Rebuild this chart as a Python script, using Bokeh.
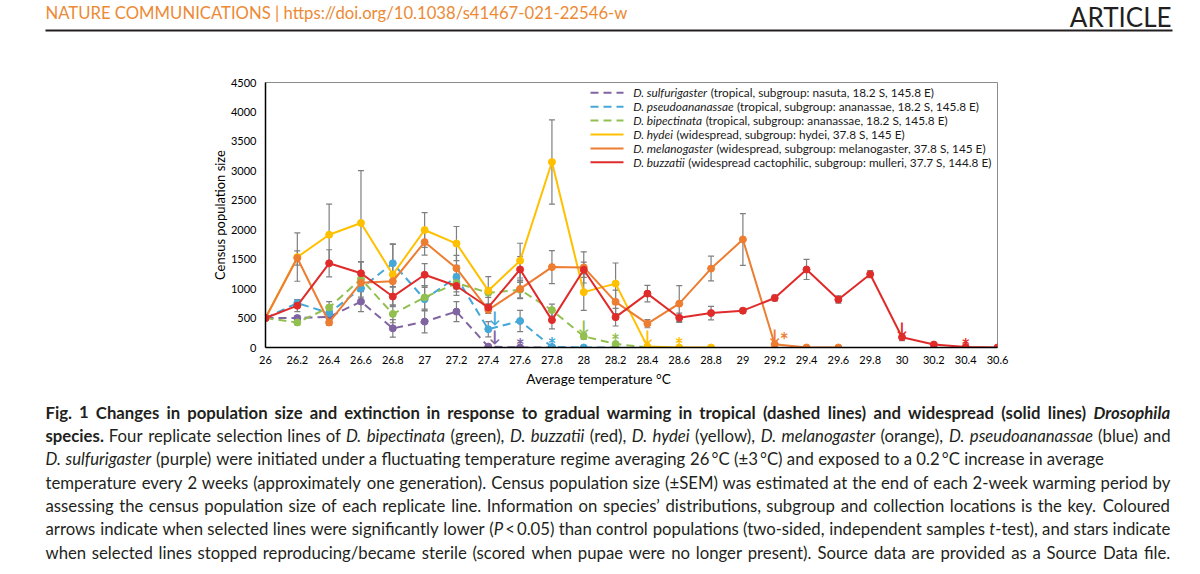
import os, glob, struct
from bokeh.plotting import figure
from bokeh.models import Range1d, FixedTicker, Whisker, ColumnDataSource, TeeHead
from bokeh.layouts import column
from bokeh.embed import file_html
from bokeh.resources import INLINE
from bokeh.core.properties import value

# ---------------- data ----------------
temp_labels = ["26", "26.2", "26.4", "26.6", "26.8", "27", "27.2", "27.4", "27.6", "27.8",
               "28", "28.2", "28.4", "28.6", "28.8", "29", "29.2", "29.4", "29.6", "29.8",
               "30", "30.2", "30.4", "30.6"]
y_tick_labels = ["0", "500", "1000", "1500", "2000", "2500", "3000", "3500", "4000", "4500"]

sulfurigaster = [500, 500, 520, 780, 325, 440, 610, 15, 0, 0]
sulfurigaster_sem = [0, 40, 50, 170, 150, 190, 170, 10, 0, 0]

pseudoananassae = [500, 755, 585, 1005, 1430, 820, 1195, 310, 450, 10, 0, 0]
pseudoananassae_sem = [0, 60, 60, 150, 320, 200, 200, 130, 180, 10, 0, 0]

bipectinata = [500, 425, 680, 1165, 570, 850, 1095, 930, 980, 635, 190, 60, 0]
bipectinata_sem = [0, 40, 100, 120, 150, 200, 150, 80, 150, 100, 50, 20, 0]

hydei = [500, 1535, 1915, 2115, 1240, 1995, 1765, 965, 1475, 3150, 940, 1085, 15, 0, 0]
hydei_sem = [0, 410, 520, 890, 520, 295, 290, 240, 295, 715, 310, 350, 10, 0, 0]

melanogaster = [500, 1520, 425, 1100, 1125, 1790, 1345, 640, 995, 1365, 1360, 775, 405, 745,
                1340, 1835, 55, 0, 0]
melanogaster_sem = [0, 120, 50, 350, 100, 220, 220, 60, 150, 280, 265, 200, 70, 305, 210, 440,
                    10, 0, 0]

buzzatii = [500, 710, 1430, 1260, 865, 1235, 1045, 680, 1325, 465, 1320, 515, 915, 505, 585, 625,
            840, 1325, 815, 1245, 175, 50, 10, 0]
buzzatii_sem = [0, 100, 230, 200, 170, 190, 160, 60, 220, 150, 130, 150, 140, 80, 115, 40, 50,
                170, 60, 60, 60, 10, 5, 0]

# significance arrows / sterility stars (temperature, census size) per species
arrow_x = [27.44, 27.44, 28.0, 28.4, 29.2, 30.0]
arrow_y = [205, 528, 381, 205, 222, 346]
star_x = [27.6, 27.8, 28.2, 28.6, 29.26, 30.4]
star_y = [136, 153, 222, 153, 233, 136]

species_italic = ["D. sulfurigaster", "D. pseudoananassae", "D. bipectinata", "D. hydei",
                  "D. melanogaster", "D. buzzatii"]
species_rest = ["(tropical, subgroup: nasuta, 18.2 S, 145.8 E)",
                "(tropical, subgroup: ananassae, 18.2 S, 145.8 E)",
                "(tropical, subgroup: ananassae, 18.2 S, 145.8 E)",
                "(widespread, subgroup: hydei, 37.8 S, 145 E)",
                "(widespread, subgroup: melanogaster, 37.8 S, 145 E)",
                "(widespread cactophilic, subgroup: mulleri, 37.7 S, 144.8 E)"]
species_colors = ["#8064A2", "#45A8D8", "#92C050", "#FFC000", "#ED7D31", "#E02B2B"]
species_dashed = [True, True, True, False, False, False]
species_values = [sulfurigaster, pseudoananassae, bipectinata, hydei, melanogaster, buzzatii]
species_sems = [sulfurigaster_sem, pseudoananassae_sem, bipectinata_sem, hydei_sem,
                melanogaster_sem, buzzatii_sem]

header_left = "NATURE COMMUNICATIONS | https://doi.org/10.1038/s41467-021-22546-w"
header_right = "ARTICLE"
x_title = "Average temperature \u00b0C"
y_title = "Census population size"

caption_lines = [
    [("bold", "Fig. 1 Changes in population size and extinction in response to gradual warming in tropical (dashed lines) and widespread (solid lines) "),
     ("bold italic", "Drosophila")],
    [("bold", "species."), ("normal", " Four replicate selection lines of "), ("italic", "D. bipectinata"),
     ("normal", " (green), "), ("italic", "D. buzzatii"), ("normal", " (red), "), ("italic", "D. hydei"),
     ("normal", " (yellow), "), ("italic", "D. melanogaster"), ("normal", " (orange), "),
     ("italic", "D. pseudoananassae"), ("normal", " (blue) and")],
    [("italic", "D. sulfurigaster"),
     ("normal", " (purple) were initiated under a fluctuating temperature regime averaging 26\u2009\u00b0C (\u00b13\u2009\u00b0C) and exposed to a 0.2\u2009\u00b0C increase in average")],
    [("normal", "temperature every 2 weeks (approximately one generation). Census population size (\u00b1SEM) was estimated at the end of each 2-week warming period by")],
    [("normal", "assessing the census population size of each replicate line. Information on species\u2019 distributions, subgroup and collection locations is the key. Coloured")],
    [("normal", "arrows indicate when selected lines were significantly lower ("), ("italic", "P"),
     ("normal", "\u2009<\u20090.05) than control populations (two-sided, independent samples "), ("italic", "t"),
     ("normal", "-test), and stars indicate")],
    [("normal", "when selected lines stopped reproducing/became sterile (scored when pupae were no longer present). Source data are provided as a Source Data file.")],
]
caption_justify = [True, True, False, True, True, True, True]

# ---------------- font metrics (for text layout only) ----------------
def _find_font(fname):
    roots = ["/usr/share/fonts", "/usr/local/share/fonts",
             os.path.expanduser("~/.fonts"), os.path.expanduser("~/.local/share/fonts")]
    for r in roots:
        if os.path.isdir(r):
            hits = glob.glob(os.path.join(r, "**", fname), recursive=True)
            if hits:
                return hits[0]
    return None


class Metrics:
    def __init__(self, path):
        d = open(path, "rb").read()
        off0 = struct.unpack(">I", d[12:16])[0] if d[:4] == b"ttcf" else 0
        n = struct.unpack(">H", d[off0 + 4:off0 + 6])[0]
        t = {}
        for i in range(n):
            rec = off0 + 12 + 16 * i
            tag = d[rec:rec + 4].decode("latin1")
            o = struct.unpack(">I", d[rec + 8:rec + 12])[0]
            t[tag] = o
        self.upem = struct.unpack(">H", d[t["head"] + 18:t["head"] + 20])[0]
        self.nhm = struct.unpack(">H", d[t["hhea"] + 34:t["hhea"] + 36])[0]
        h = t["hmtx"]
        self.adv = [struct.unpack(">H", d[h + 4 * i:h + 4 * i + 2])[0] for i in range(self.nhm)]
        c = t["cmap"]
        nsub = struct.unpack(">H", d[c + 2:c + 4])[0]
        sub = None
        for i in range(nsub):
            pid, eid, so = struct.unpack(">HHI", d[c + 4 + 8 * i:c + 12 + 8 * i])
            fmt = struct.unpack(">H", d[c + so:c + so + 2])[0]
            if fmt == 4 and ((pid == 3 and eid == 1) or pid == 0):
                sub = c + so
                break
        self.cmap = {}
        if sub is not None:
            segx2 = struct.unpack(">H", d[sub + 6:sub + 8])[0]
            seg = segx2 // 2
            ends = struct.unpack(">%dH" % seg, d[sub + 14:sub + 14 + segx2])
            starts = struct.unpack(">%dH" % seg, d[sub + 16 + segx2:sub + 16 + 2 * segx2])
            deltas = struct.unpack(">%dh" % seg, d[sub + 16 + 2 * segx2:sub + 16 + 3 * segx2])
            rbase = sub + 16 + 3 * segx2
            roffs = struct.unpack(">%dH" % seg, d[rbase:rbase + segx2])
            for i in range(seg):
                s, e = starts[i], min(ends[i], 0x3000)
                for ch in range(s, e + 1):
                    if roffs[i] == 0:
                        g = (ch + deltas[i]) & 0xFFFF
                    else:
                        a = rbase + 2 * i + roffs[i] + 2 * (ch - s)
                        g = struct.unpack(">H", d[a:a + 2])[0]
                        if g:
                            g = (g + deltas[i]) & 0xFFFF
                    self.cmap[ch] = g

    def width(self, s, size):
        tot = 0
        for ch in s:
            g = self.cmap.get(ord(ch), 0)
            tot += self.adv[min(g, self.nhm - 1)]
        return tot * size / self.upem


FONT_FILES = {
    ("Lato", "normal"): "Lato-Regular.ttf",
    ("Lato", "bold"): "Lato-Bold.ttf",
    ("Lato", "italic"): "Lato-Italic.ttf",
    ("Lato", "bold italic"): "Lato-BoldItalic.ttf",
    ("Liberation Sans Narrow", "normal"): "LiberationSansNarrow-Regular.ttf",
}
METRICS = {}
for key, fn in FONT_FILES.items():
    pth = _find_font(fn)
    if pth:
        try:
            METRICS[key] = Metrics(pth)
        except Exception:
            pass


def tw(s, fam, style, size):
    m = METRICS.get((fam, style)) or METRICS.get((fam, "normal"))
    if m is None:
        return len(s) * size * (0.56 if "bold" in style else 0.5)
    return m.width(s, size)


F = "Lato"
HEAD_FONT = "Liberation Sans Narrow" if ("Liberation Sans Narrow", "normal") in METRICS else "Lato"

# ---------------- geometry (page pixel layout; page has no margin) ----------------
W = 1200
HEAD_H, CHART_H, CAP_H = 48, 323, 201
PAGE_TOP_CHART = HEAD_H
PAGE_TOP_CAP = PAGE_TOP_CHART + CHART_H
FL, FR, FT, FB = 265, 997, 82, 347
X0, X1 = float(temp_labels[0]), float(temp_labels[-1])
Y0, Y1 = float(y_tick_labels[0]), float(y_tick_labels[-1])


def dx(px):
    return X0 + (px - FL) / (FR - FL) * (X1 - X0)


def dy(py):
    return Y0 + (FB - py) / (FB - FT) * (Y1 - Y0)


def canvas(h):
    f = figure(width=W, height=h, x_range=Range1d(0, W), y_range=Range1d(h, 0),
               x_axis_type=None, y_axis_type=None, output_backend="svg",
               toolbar_location=None, min_border=0)
    f.frame_align = False
    f.outline_line_color = None
    f.background_fill_color = "white"
    f.border_fill_color = "white"
    return f


# ---------------- header ----------------
ph = canvas(HEAD_H)
hl_size = 591 / tw(header_left, HEAD_FONT, "normal", 1)
ph.text(x=[45], y=[12], text=[header_left], text_font=value(HEAD_FONT),
        text_font_size=f"{hl_size:.2f}px", text_color="#EC8A35", text_baseline="middle",
        text_align="left")
ph.text(x=[1171], y=[16.5], text=[header_right], text_font=value(HEAD_FONT),
        text_font_size="26px", text_color="#231F20", text_baseline="middle",
        text_align="right")
ph.segment(x0=[45], x1=[1172], y0=[30], y1=[30], line_color="#231F20", line_width=2)

# ---------------- chart ----------------
temps = [float(t) for t in temp_labels]
y_ticks = [float(t) for t in y_tick_labels]

p = figure(width=W, height=CHART_H, x_range=Range1d(X0, X1), y_range=Range1d(Y0, Y1),
           output_backend="svg", toolbar_location=None,
           min_border_left=FL, min_border_right=W - FR,
           min_border_top=FT - PAGE_TOP_CHART, min_border_bottom=PAGE_TOP_CAP - FB)
p.frame_align = False
p.grid.visible = False
p.outline_line_color = "#8C8C8C"
p.outline_line_width = 1
p.background_fill_color = "white"
p.border_fill_color = "white"

for ax in (p.xaxis[0], p.yaxis[0]):
    ax.axis_line_color = "black"
    ax.axis_line_width = 1.5
    ax.major_tick_line_color = None
    ax.minor_tick_line_color = None
    ax.major_tick_out = 0
    ax.major_tick_in = 0
    ax.minor_tick_out = 0
    ax.major_label_text_font = F
    ax.major_label_text_font_size = "11px"
    ax.major_label_text_color = "black"

p.xaxis.ticker = FixedTicker(ticks=temps)
p.xaxis.major_label_overrides = {t: s for t, s in zip(temps, temp_labels)}
p.xaxis.major_label_standoff = 8
p.yaxis.ticker = FixedTicker(ticks=y_ticks)
p.yaxis.major_label_overrides = {t: s for t, s in zip(y_ticks, y_tick_labels)}
p.yaxis.major_label_standoff = 9
yt_size = 130 / tw(y_title, F, "normal", 1)
p.yaxis.axis_label = y_title
p.yaxis.axis_label_text_font = F
p.yaxis.axis_label_text_font_style = "normal"
p.yaxis.axis_label_text_font_size = f"{yt_size:.2f}px"
p.yaxis.axis_label_text_color = "black"
p.yaxis.axis_label_standoff = 0

for vals, sems, col, dashed in zip(species_values, species_sems, species_colors, species_dashed):
    n = len(vals)
    xs = temps[:n]
    idx = [i for i in range(n) if sems[i] > 0]
    src = ColumnDataSource(dict(x=[xs[i] for i in idx],
                                upper=[vals[i] + sems[i] for i in idx],
                                lower=[max(vals[i] - sems[i], 0) for i in idx]))
    w = Whisker(source=src, base="x", upper="upper", lower="lower", line_color="#7F7F7F",
                line_width=1.2,
                upper_head=TeeHead(size=6, line_color="#7F7F7F", line_width=1.2),
                lower_head=TeeHead(size=6, line_color="#7F7F7F", line_width=1.2))
    p.add_layout(w)

for vals, col, dashed in zip(species_values, species_colors, species_dashed):
    n = len(vals)
    xs = temps[:n]
    p.line(xs, vals, line_color=col, line_width=2, line_dash="8 5" if dashed else "solid")
    p.scatter(xs, vals, size=7, marker="circle", fill_color=col, line_color=col)

p.text(x=arrow_x, y=arrow_y, text=["\u2193"] * len(arrow_x), text_color=species_colors,
       text_font=value(F), text_font_style="bold", text_font_size="16px",
       text_align="center", text_baseline="middle")
p.text(x=star_x, y=star_y, text=["*"] * len(star_x), text_color=species_colors,
       text_font=value(F), text_font_style="bold", text_font_size="21px",
       text_align="center", text_baseline="middle", y_offset=6)

# legend (drawn manually: italic species + roman details)
sp_leg = lambda s: tw(" ", F, "normal", s)
leg_size = 359 / (tw(species_italic[5], F, "italic", 1) + sp_leg(1) + tw(species_rest[5], F, "normal", 1))
for i, (it, rest, col, dashed) in enumerate(zip(species_italic, species_rest, species_colors,
                                                  species_dashed)):
    row = 92.3 + 13.9 * i
    p.line([dx(590), dx(623)], [dy(row), dy(row)], line_color=col, line_width=2,
           line_dash="8 5" if dashed else "solid")
    wi = tw(it, F, "italic", leg_size) + sp_leg(leg_size)
    p.text(x=[dx(632.7)], y=[dy(row)], text=[it], text_font=value(F), text_font_style="italic",
           text_font_size=f"{leg_size:.2f}px", text_color="#1A1A1A", text_baseline="middle")
    p.text(x=[dx(632.7 + wi)], y=[dy(row)], text=[rest], text_font=value(F),
           text_font_size=f"{leg_size:.2f}px", text_color="#1A1A1A", text_baseline="middle")

# ---------------- caption ----------------
pc = canvas(CAP_H)
xt_size = 146 / tw(x_title, F, "normal", 1)
pc.text(x=[598], y=[378 - PAGE_TOP_CAP], text=[x_title], text_font=value(F),
        text_font_size=f"{xt_size:.2f}px", text_color="black", text_align="center",
        text_baseline="middle")


def words_of(runs):
    words = [[]]
    for style, txt in runs:
        parts = txt.split(" ")
        for k, part in enumerate(parts):
            if k > 0:
                words.append([])
            if part:
                words[-1].append((style, part))
    return [w for w in words if w]


def nat_width(runs, size):
    ws = words_of(runs)
    return sum(tw(t, F, st, size) for w in ws for st, t in w) + tw(" ", F, "normal", size) * (len(ws) - 1)


cap_size = (1104 - 45) / nat_width(caption_lines[2], 1)
LEFT, RIGHT = 45, 1170
placed = {"normal": ([], [], []), "bold": ([], [], []), "italic": ([], [], []),
          "bold italic": ([], [], [])}
for li, (runs, just) in enumerate(zip(caption_lines, caption_justify)):
    yc = 411.5 + 23.35 * li - PAGE_TOP_CAP
    ws = words_of(runs)
    wws = [sum(tw(t, F, st, cap_size) for st, t in w) for w in ws]
    sp = tw(" ", F, "normal", cap_size)
    natural = sum(wws) + sp * (len(ws) - 1)
    gap = sp + ((RIGHT - LEFT) - natural) / (len(ws) - 1) if just else sp
    x = LEFT
    for w, ww in zip(ws, wws):
        xx = x
        for st, t in w:
            placed[st][0].append(xx)
            placed[st][1].append(yc)
            placed[st][2].append(t)
            xx += tw(t, F, st, cap_size)
        x += ww + gap

for st, (xs, ys, ts) in placed.items():
    if ts:
        pc.text(x=xs, y=ys, text=ts, text_font=value(F), text_font_style=st,
                text_font_size=f"{cap_size:.2f}px", text_color="#231F20",
                text_baseline="middle", text_align="left")

layout = column(ph, p, pc)
open("out.html", "w").write(file_html(layout, INLINE))
